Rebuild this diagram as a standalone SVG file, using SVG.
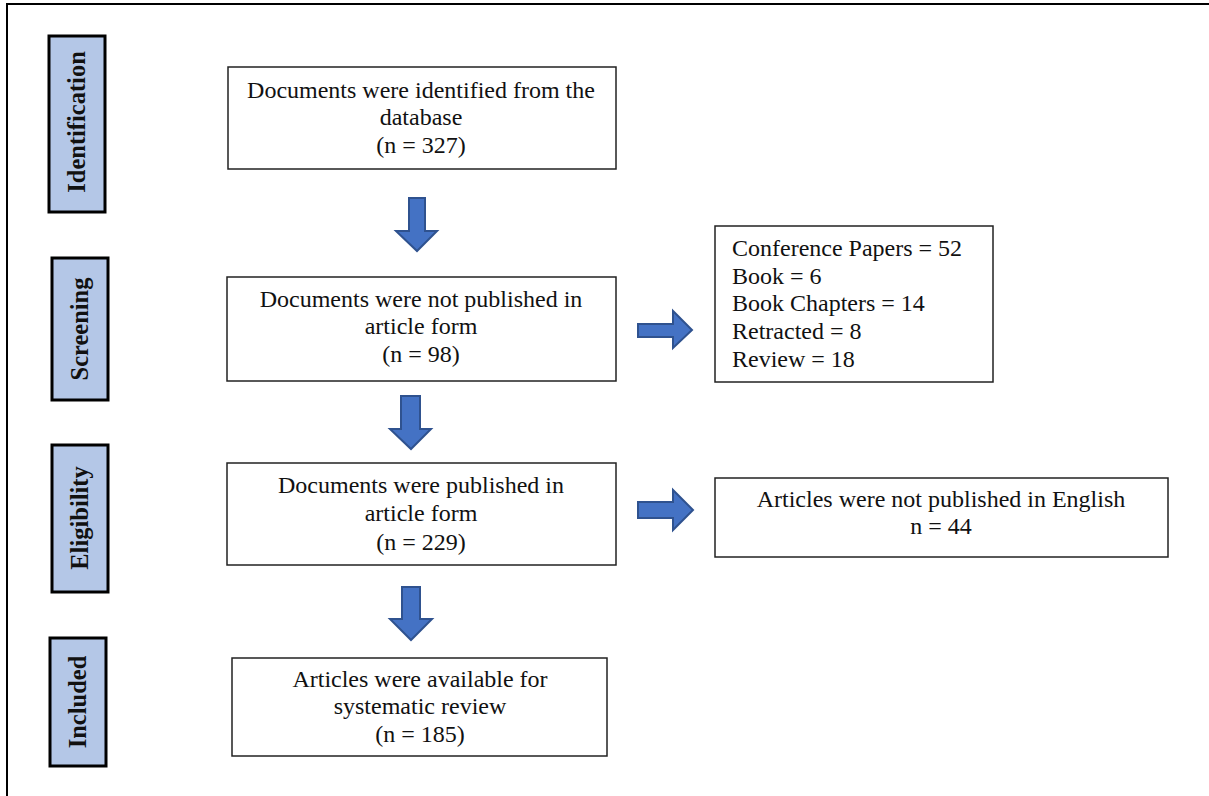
<svg xmlns="http://www.w3.org/2000/svg" width="1209" height="796" viewBox="0 0 1209 796">
<style>
.stage{fill:#B4C7E7;stroke:#000;stroke-width:3}
.stxt{font-family:"Liberation Serif","DejaVu Serif",serif;font-size:24.5px;font-weight:bold;fill:#111;text-anchor:middle}
.box{fill:#fff;stroke:#222;stroke-width:1.5}
.t{font-family:"Liberation Serif","DejaVu Serif",serif;font-size:24px;fill:#111;text-anchor:middle}
.tl{font-family:"Liberation Serif","DejaVu Serif",serif;font-size:24px;fill:#111}
.arr{fill:#4472C4;stroke:#2F528F;stroke-width:2;stroke-linejoin:miter}
</style>
<rect width="1209" height="796" fill="#fff"/>
<path d="M7,796 V4 H1209" fill="none" stroke="#000" stroke-width="2"/>

<g id="stage-identification"><rect class="stage" x="49" y="36" width="56" height="176"/><text class="stxt" transform="translate(85,122) rotate(-90)">Identification</text></g>
<g id="stage-screening"><rect class="stage" x="52" y="258" width="56" height="142"/><text class="stxt" transform="translate(88,329) rotate(-90)">Screening</text></g>
<g id="stage-eligibility"><rect class="stage" x="52" y="445" width="56" height="147"/><text class="stxt" transform="translate(88,518) rotate(-90)">Eligibility</text></g>
<g id="stage-included"><rect class="stage" x="50" y="638" width="56" height="128"/><text class="stxt" transform="translate(86,702) rotate(-90)">Included</text></g>

<g id="box-identified"><rect class="box" x="228" y="67" width="388" height="102"/>
<text class="t" x="421" y="98">Documents were identified from the</text>
<text class="t" x="421" y="125">database</text>
<text class="t" x="421" y="153">(n = 327)</text></g>

<g id="box-not-published"><rect class="box" x="227" y="277" width="389" height="104"/>
<text class="t" x="421" y="307">Documents were not published in</text>
<text class="t" x="421" y="334">article form</text>
<text class="t" x="421" y="362">(n = 98)</text></g>

<g id="box-excluded-types"><rect class="box" x="715" y="226" width="278" height="156"/>
<text class="tl" x="732" y="256">Conference Papers = 52</text>
<text class="tl" x="732" y="284">Book = 6</text>
<text class="tl" x="732" y="311">Book Chapters = 14</text>
<text class="tl" x="732" y="339">Retracted = 8</text>
<text class="tl" x="732" y="367">Review = 18</text></g>

<g id="box-published"><rect class="box" x="227" y="463" width="389" height="102"/>
<text class="t" x="421" y="493">Documents were published in</text>
<text class="t" x="421" y="521">article form</text>
<text class="t" x="421" y="550">(n = 229)</text></g>

<g id="box-not-english"><rect class="box" x="715" y="478" width="453" height="79"/>
<text class="t" x="941" y="507">Articles were not published in English</text>
<text class="t" x="941" y="534">n = 44</text></g>

<g id="box-included"><rect class="box" x="232" y="658" width="375" height="98"/>
<text class="t" x="420" y="687">Articles were available for</text>
<text class="t" x="420" y="714">systematic review</text>
<text class="t" x="420" y="742">(n = 185)</text></g>

<g id="connectors">
<path class="arr" d="M409,198 H425 V231 H437 L417,251 L396,231 H409 Z"/>
<path class="arr" d="M401,396 H420 V429 H431 L411,449 L390,429 H401 Z"/>
<path class="arr" d="M402,587 H420 V619 H432 L411,640 L390,619 H402 Z"/>
<path class="arr" d="M638,324 H673 V311 L692,330 L673,348 V337 H638 Z"/>
<path class="arr" d="M638,502 H673 V490 L693,510 L673,530 V518 H638 Z"/>
</g>
</svg>
